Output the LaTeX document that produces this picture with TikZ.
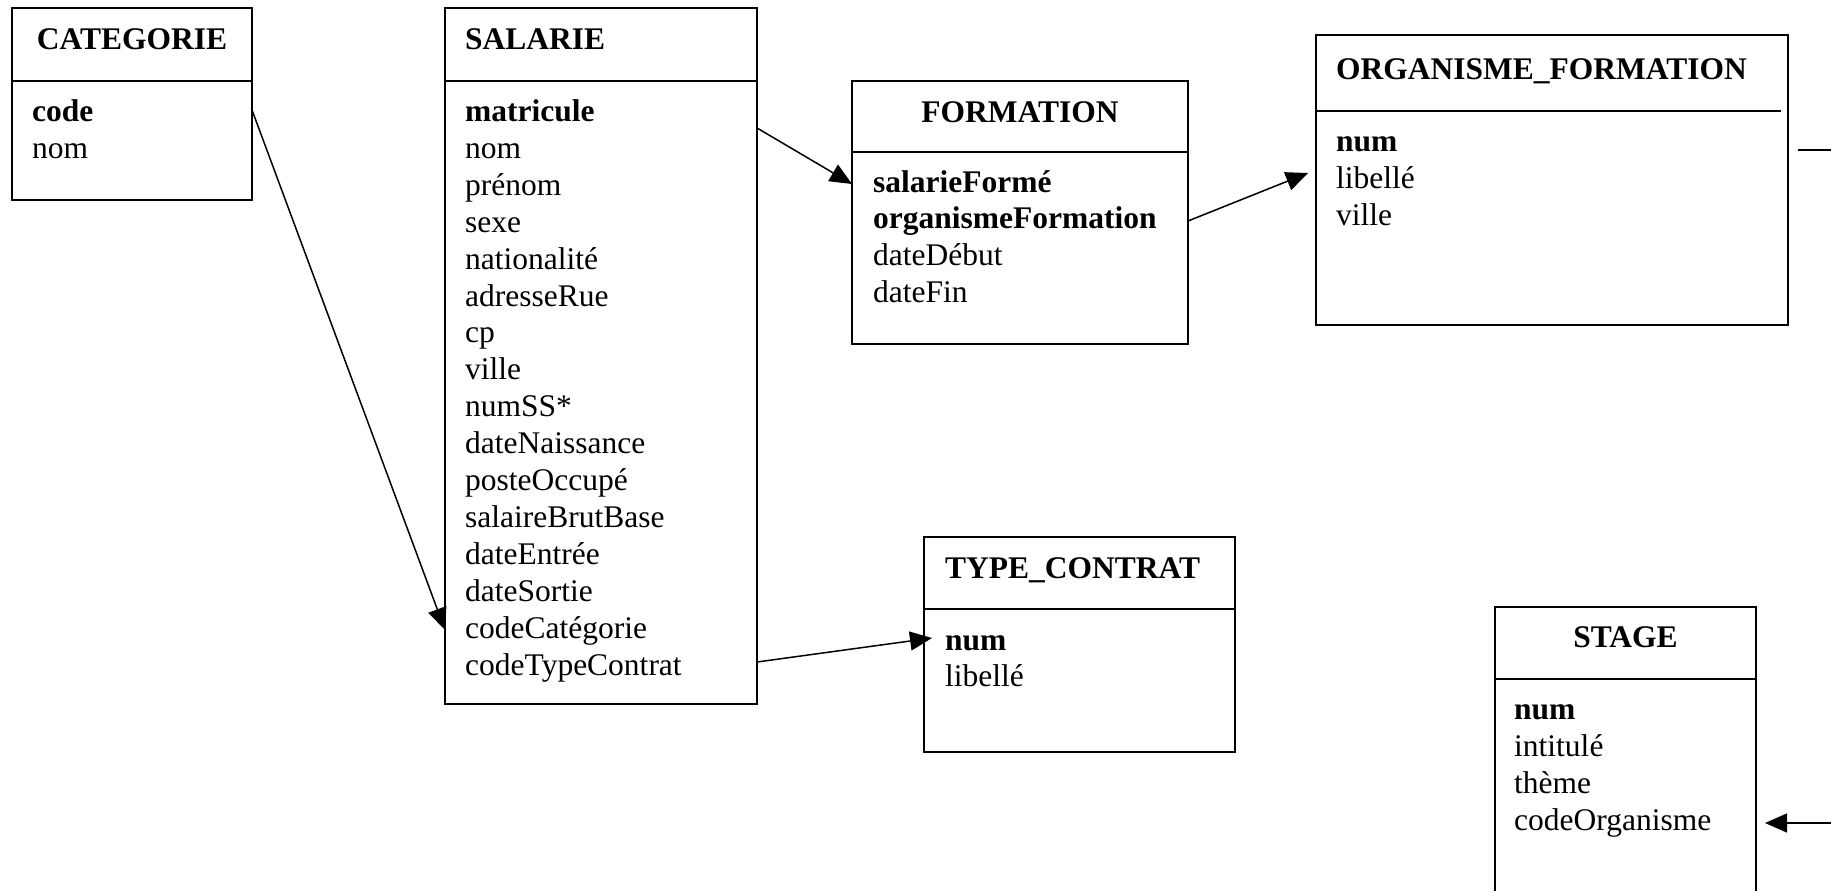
\documentclass[tikz,border=0pt]{standalone}
\usepackage{fontspec}
\setmainfont{Liberation Serif}
\usetikzlibrary{arrows.meta,calc}
\tikzset{
  tbl/.style={draw, line width=1.8pt, inner sep=0pt, outer sep=0pt, anchor=north west},
  sepline/.style={line width=1.8pt},
  attr/.style={inner sep=0pt, anchor=base west, font=\fontsize{31.5pt}{36.8pt}\selectfont},
  ttl/.style={inner sep=0pt, anchor=base west, font=\fontsize{31.5pt}{36.8pt}\selectfont\bfseries},
  ttlc/.style={ttl, anchor=base},
  link/.style={line width=1.5pt, -{Triangle[length=22pt,width=19pt]}},
  plainlink/.style={line width=1.5pt}
}
\begin{document}
\begin{tikzpicture}[x=1pt,y=-1pt]
\useasboundingbox (0,0) rectangle (1831,891);
\clip (0,0) rectangle (1831,891);
\fill[white] (0,0) rectangle (1831,891);

% CATEGORIE
\node[tbl, minimum width=240pt, minimum height=192pt] (cat) at (12,8) {};
\draw[sepline] ($(cat.north west)+(0,73)$) -- ($(cat.north east)+(0,73)$);
\node[ttlc] (catT) at (132,50) {CATEGORIE};
\node[attr] (catA1) at (32,121.5) {\bfseries code};
\node[attr] (catA2) at (32,158.3) {nom};

% SALARIE
\node[tbl, minimum width=312pt, minimum height=696pt] (sal) at (445,8) {};
\draw[sepline] ($(sal.north west)+(0,73)$) -- ($(sal.north east)+(0,73)$);
\node[ttl] (salT) at (465,50) {SALARIE};
\foreach \t [count=\i] in {{\bfseries matricule},nom,prénom,sexe,nationalité,adresseRue,cp,ville,numSS*,dateNaissance,posteOccupé,salaireBrutBase,dateEntrée,dateSortie,codeCatégorie,codeTypeContrat}
  \node[attr] (sal\i) at (465,{121.5+36.9*(\i-1)}) {\t};

% FORMATION
\node[tbl, minimum width=336pt, minimum height=263pt] (form) at (852,81) {};
\draw[sepline] ($(form.north west)+(0,71)$) -- ($(form.north east)+(0,71)$);
\node[ttlc] (formT) at (1020,122) {FORMATION};
\foreach \t [count=\i] in {{\bfseries salarieFormé},{\bfseries organismeFormation},dateDébut,dateFin}
  \node[attr] (form\i) at (873,{192+36.8*(\i-1)}) {\t};

% ORGANISME_FORMATION
\node[tbl, minimum width=472pt, minimum height=290pt] (org) at (1316,35) {};
\draw[sepline] ($(org.north west)+(0,76)$) -- ($(org.north east)+(-7,76)$);
\node[ttl] (orgT) at (1336,79) {ORGANISME\_FORMATION};
\foreach \t [count=\i] in {{\bfseries num},libellé,ville}
  \node[attr] (org\i) at (1336,{151+37*(\i-1)}) {\t};

% TYPE_CONTRAT
\node[tbl, minimum width=311pt, minimum height=215pt] (tc) at (924,537) {};
\draw[sepline] ($(tc.north west)+(0,72)$) -- ($(tc.north east)+(0,72)$);
\node[ttl] (tcT) at (945,578) {TYPE\_CONTRAT};
\foreach \t [count=\i] in {{\bfseries num},libellé}
  \node[attr] (tc\i) at (945,{650+36.5*(\i-1)}) {\t};

% STAGE
\node[tbl, minimum width=261pt, minimum height=320pt] (stage) at (1495,607) {};
\draw[sepline] ($(stage.north west)+(0,72)$) -- ($(stage.north east)+(0,72)$);
\node[ttlc] (stageT) at (1625.5,647) {STAGE};
\foreach \t [count=\i] in {{\bfseries num},intitulé,thème,codeOrganisme}
  \node[attr] (stage\i) at (1514,{719+37.3*(\i-1)}) {\t};

% connectors
\draw[link] ($(cat.north east)+(0,102)$) -- ($(sal.north west)+(0,622)$);
\draw[link] ($(sal.north east)+(0,120)$) -- ($(form.north west)+(0,103)$);
\draw[link] ($(form.north east)+(0,140)$) -- ($(org.north west)+(-8,138)$);
\draw[link] ($(sal.north east)+(0,654)$) -- ($(tc.north west)+(8,101)$);
\coordinate (offR1) at (1831,150);
\coordinate (offR2) at (1831,823);
\draw[plainlink] ($(org.north east)+(10,115)$) -- (offR1);
\draw[link] (offR2) -- ($(stage.north east)+(9,216)$);
\end{tikzpicture}
\end{document}
